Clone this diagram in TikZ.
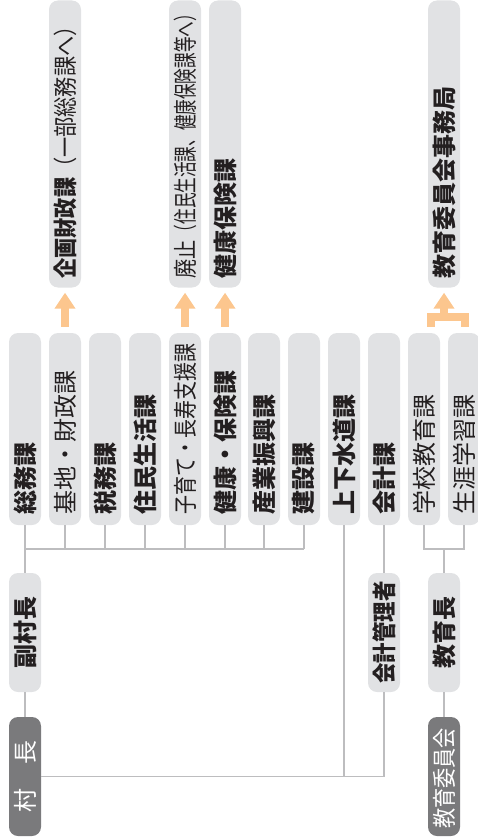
\documentclass[tikz,border=0pt]{standalone}
\usepackage{fontspec}
\setmainfont{Noto Sans CJK JP}
\usetikzlibrary{arrows.meta}
\definecolor{boxc}{HTML}{E1E2E4}
\definecolor{darkc}{HTML}{7A7A7C}
\definecolor{linec}{HTML}{BDBDBF}
\definecolor{orc}{HTML}{FCC68E}
\definecolor{txtc}{HTML}{231F20}
\newcommand{\sx}[2]{\scalebox{#1}[1]{#2}}
\begin{document}
\begin{tikzpicture}[x=1pt,y=-1pt,
  box/.style={draw=none, fill=boxc, rounded corners=9pt, minimum width=32pt, inner sep=0pt},
  sbox/.style={box, minimum height=192pt},
  nbox/.style={box, minimum height=287pt},
  mbox/.style={box, minimum height=119pt},
  dbox/.style={box, fill=darkc, minimum height=119pt},
  lbl/.style={rotate=90, inner sep=0pt, text=txtc, font=\fontsize{24}{24}\selectfont},
  wlbl/.style={lbl, text=white},
  conn/.style={draw=linec, line width=1.6pt},
  oarrow/.style={draw=orc, line width=8pt, -{Triangle[width=20pt,length=16pt]}, shorten <=6pt, shorten >=5pt}
]
\useasboundingbox (0,0) rectangle (477,840);

% section boxes (current)
\node[sbox] (s1) at (25,429) {};
\node[sbox] (s2) at (65,429) {};
\node[sbox] (s3) at (105,429) {};
\node[sbox] (s4) at (145,429) {};
\node[sbox] (s5) at (185,429) {};
\node[sbox] (s6) at (225,429) {};
\node[sbox] (s7) at (264,429) {};
\node[sbox] (s8) at (304,429) {};
\node[sbox] (s9) at (344,429) {};
\node[sbox] (s10) at (384,429) {};
\node[sbox] (s11) at (424,429) {};
\node[sbox] (s12) at (464,429) {};

% new organisation boxes
\node[nbox] (n2) at (65,144) {};
\node[nbox] (n5) at (185,144) {};
\node[nbox] (n6) at (225,144) {};
\node[nbox] (n11) at (444,144) {};

% middle
\node[mbox] (m1) at (25,632.5) {};
\node[mbox] (m10) at (384,632.5) {};
\node[mbox] (m11) at (444,632.5) {};

% bottom
\node[dbox] (b1) at (25,776.5) {};
\node[dbox] (b11) at (444,776.5) {};

% labels
\node[lbl, anchor=west] (t1) at ([yshift=11pt]s1.south) {\bfseries 総務課};
\node[lbl, anchor=west] (t2) at ([yshift=11pt]s2.south) {基地・財政課};
\node[lbl, anchor=west] (t3) at ([yshift=11pt]s3.south) {\bfseries 税務課};
\node[lbl, anchor=west] (t4) at ([yshift=11pt]s4.south) {\bfseries 住民生活課};
\node[lbl, anchor=west] (t5) at ([yshift=11pt]s5.south) {\sx{0.79}{子育て・長寿支援課}};
\node[lbl, anchor=west] (t6) at ([yshift=11pt]s6.south) {\bfseries 健康・保険課};
\node[lbl, anchor=west] (t7) at ([yshift=11pt]s7.south) {\bfseries 産業振興課};
\node[lbl, anchor=west] (t8) at ([yshift=11pt]s8.south) {\bfseries 建設課};
\node[lbl, anchor=west] (t9) at ([yshift=11pt]s9.south) {\bfseries 上下水道課};
\node[lbl, anchor=west] (t10) at ([yshift=11pt]s10.south) {\bfseries 会計課};
\node[lbl, anchor=west] (t11) at ([yshift=11pt]s11.south) {学校教育課};
\node[lbl, anchor=west] (t12) at ([yshift=11pt]s12.south) {生涯学習課};

\node[lbl, anchor=west] (u2) at ([yshift=9pt]n2.south) {\sx{0.84}{\bfseries 企画財政課}\sx{0.84}{（一部総務課へ）}};
\node[lbl, anchor=west] (u5) at ([yshift=9pt]n5.south) {\sx{0.8}{廃止}\sx{0.65}{（住民生活課、健康保険課等へ）}};
\node[lbl, anchor=west] (u6) at ([yshift=9pt]n6.south) {\bfseries 健康保険課};
\node[lbl, anchor=west] (u11) at ([yshift=9pt]n11.south) {\bfseries 教育委員会事務局};

\node[lbl] (v1) at (m1.center) {\bfseries 副村長};
\node[lbl] (v10) at (m10.center) {\bfseries \sx{0.85}{会計管理者}};
\node[lbl] (v11) at (m11.center) {\bfseries 教育長};

\node[wlbl] (w1) at (b1.center) {村　長};
\node[wlbl] (w11) at ([yshift=-2pt]b11.center) {\sx{0.84}{教育委員会}};

% connectors
\coordinate (bus1) at (25,549);
\draw[conn] (s1.south) -- (m1.north);
\draw[conn] (bus1) -- (bus1 -| s8.south);
\foreach \k in {2,...,8} {\draw[conn] (s\k.south) -- (s\k.south |- bus1);}
\draw[conn] (m1.south) -- (b1.north);
\draw[conn] (b1.east) -| (m10.south);
\draw[conn] (s9.south) -- (s9.south |- b1.east);
\draw[conn] (s10.south) -- (m10.north);
\coordinate (ebus) at (444,549);
\draw[conn] (s11.south) -- (s11.south |- ebus) -- (s12.south |- ebus) -- (s12.south);
\draw[conn] (m11.north |- ebus) -- (m11.north);
\draw[conn] (m11.south) -- (b11.north);

% orange arrows
\draw[oarrow] (s2.north) -- (n2.south);
\draw[oarrow] (s5.north) -- (n5.south);
\draw[oarrow] (s6.north) -- (n6.south);
\coordinate (bl) at ([xshift=7pt,yshift=6pt]s11.north);
\coordinate (br) at ([xshift=1pt,yshift=6pt]s12.north);
\draw[draw=orc, line width=7.5pt, line join=miter] (bl) -- ++(0,-10) -| (br);
\coordinate (bm) at (444,317);
\draw[oarrow, shorten <=0pt] (bm) -- (n11.south);
\end{tikzpicture}
\end{document}
